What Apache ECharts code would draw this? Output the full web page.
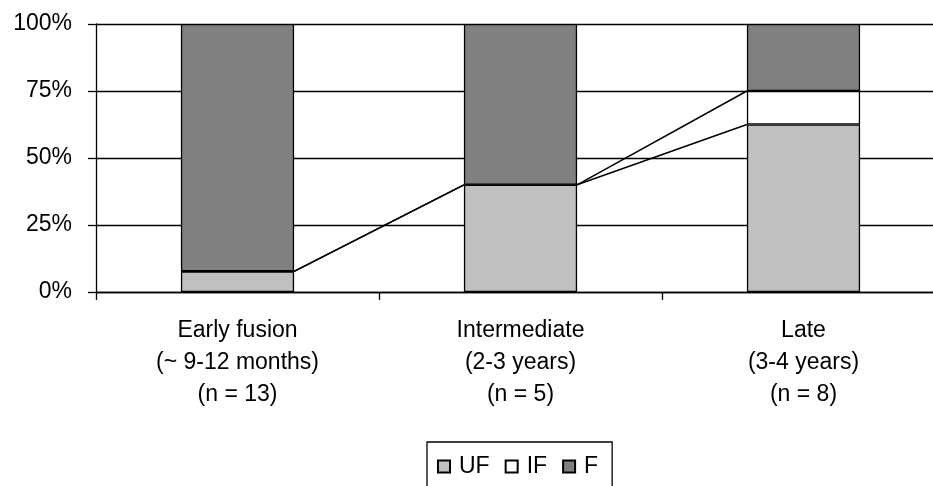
<!DOCTYPE html>
<html><head><meta charset="utf-8">
<script src="https://cdn.jsdelivr.net/npm/echarts@6/dist/echarts.min.js"></script>
<style>html,body{margin:0;padding:0;background:#fff}#c{width:933px;height:486px}</style>
</head><body><div id="c"></div>
<script>
const categories = ["Early fusion\n(~ 9-12 months)\n(n = 13)", "Intermediate\n(2-3 years)\n(n = 5)", "Late\n(3-4 years)\n(n = 8)"];
const UF = [7.7, 40, 62.5];
const IF = [0, 0, 12.5];
const F = [92.3, 60, 25];
const yTicks = [0, 25, 50, 75, 100];

const font = 'Liberation Sans, Arial, sans-serif';
const chart = echarts.init(document.getElementById('c'), null, {renderer: 'canvas'});
const barW = 0.4;

function seriesLines(params, api) {
  const i = params.dataIndex;
  const children = [];
  const cums = [
    [UF[i], UF[i + 1]],
    [UF[i] + IF[i], UF[i + 1] + IF[i + 1]]
  ];
  const bw = api.size([1, 0])[0] * barW / 2;
  cums.forEach(c => {
    const p1 = api.coord([i, c[0]]);
    const p2 = api.coord([i + 1, c[1]]);
    children.push({
      type: 'line',
      shape: {x1: p1[0] + bw, y1: p1[1], x2: p2[0] - bw, y2: p2[1]},
      style: {stroke: '#000', lineWidth: 1.5}
    });
  });
  return {type: 'group', children};
}

chart.setOption({
  animation: false,
  backgroundColor: '#fff',
  grid: {left: 96, width: 849, top: 24, height: 268, outerBoundsMode: 'none', containLabel: false},
  legend: {
    data: ['UF', 'IF', 'F'],
    left: 427, top: 442,
    icon: 'rect', itemWidth: 12, itemHeight: 12, itemGap: 15,
    padding: [13, 14, 20, 10],
    borderColor: '#000', borderWidth: 1.3,
    textStyle: {fontFamily: font, fontSize: 23, color: '#000', padding: [0, 0, 0, 4]}
  },
  xAxis: {
    type: 'category', data: categories,
    axisLine: {lineStyle: {color: '#000', width: 1.3}},
    axisTick: {show: true, length: 8, lineStyle: {color: '#000', width: 1.3}},
    axisLabel: {fontFamily: font, fontSize: 23, color: '#000', lineHeight: 32, margin: 23}
  },
  yAxis: {
    type: 'value', min: 0, max: 100, interval: 25,
    axisLine: {show: true, lineStyle: {color: '#000', width: 1.3}},
    axisTick: {show: true, length: 8, lineStyle: {color: '#000', width: 1.3}},
    splitLine: {show: true, lineStyle: {color: '#000', width: 1.3}},
    axisLabel: {fontFamily: font, fontSize: 23, color: '#000', margin: 24, formatter: v => yTicks.includes(v) ? v + '%' : ''}
  },
  series: [
    {name: 'UF', type: 'bar', stack: 's', data: UF, barWidth: '40%',
     itemStyle: {color: '#C0C0C0', borderColor: '#000', borderWidth: 1.3}},
    {name: 'IF', type: 'bar', stack: 's', data: IF, barWidth: '40%',
     itemStyle: {color: '#FFFFFF', borderColor: '#000', borderWidth: 1.3}},
    {name: 'F', type: 'bar', stack: 's', data: F, barWidth: '40%',
     itemStyle: {color: '#808080', borderColor: '#000', borderWidth: 1.3}},
    {name: 'lines', type: 'custom', data: [0, 1], renderItem: seriesLines, silent: true, z: 5}
  ]
});
</script></body></html>
